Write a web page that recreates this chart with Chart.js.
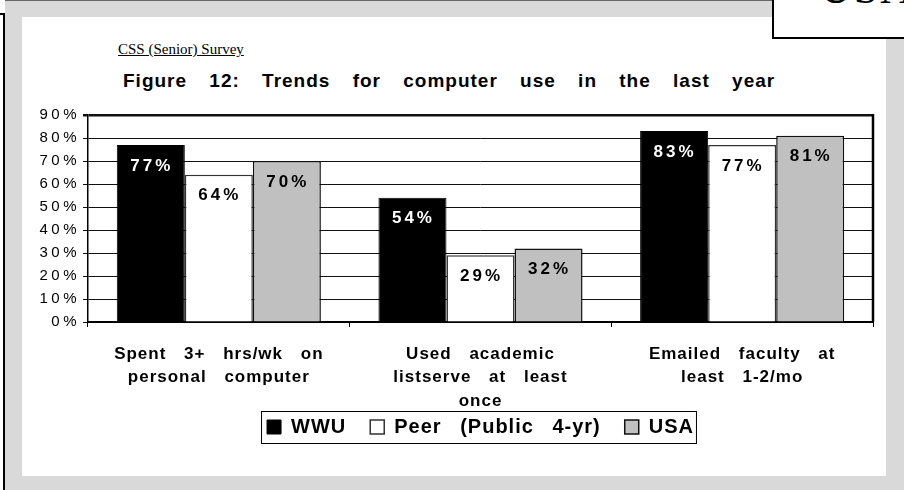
<!DOCTYPE html>
<html>
<head>
<meta charset="utf-8">
<script src="https://cdn.jsdelivr.net/npm/chart.js@4.4.1/dist/chart.umd.min.js"></script>
<style>
  html, body { margin: 0; padding: 0; background: #fff; }
  body { position: relative; width: 904px; height: 490px; overflow: hidden; font-family: "Liberation Sans", Arial, sans-serif; }
  .frame { position: absolute; left: 5px; top: 0; width: 899px; height: 490px; background: #d9d9d9; border-top: 1px solid #666; }
  .page { position: absolute; left: 22px; top: 17px; width: 864px; height: 459px; background: #fff; }
  .edge { position: absolute; left: 3px; top: 13px; width: 2px; height: 477px; background: #000; }
  .nick { position: absolute; left: 0; top: 13px; width: 4px; height: 2px; background: #000; }
  .tab { position: absolute; left: 772px; top: -2px; width: 140px; height: 37px; background: #fff; border: 2px solid #000; overflow: hidden; }
  .tab span { position: absolute; left: 46px; top: -37px; font-family: "Liberation Serif", "Times New Roman", serif; font-size: 44px; letter-spacing: 2px; color: #000; }
  .survey { position: absolute; left: 118px; top: 41px; font-family: "Liberation Serif", "Times New Roman", serif; font-size: 15px; text-decoration: underline; color: #000; }
  .title { position: absolute; left: 123px; top: 70px; font-size: 19px; font-weight: bold; letter-spacing: 1px; word-spacing: 16px; color: #000; white-space: nowrap; }
  #chart { position: absolute; left: 22px; top: 17px; }
</style>
</head>
<body>
<div class="frame"></div>
<div class="page"></div>
<div class="edge"></div>
<div class="nick"></div>
<div class="tab"><span>USA</span></div>
<div class="survey">CSS (Senior) Survey</div>
<div class="title">Figure 12: Trends for computer use in the last year</div>
<canvas id="chart" width="864" height="459"></canvas>
<script>
// categories (multi-line labels as in the original)
const categories = [
    ['Spent 3+ hrs/wk on', 'personal computer'],
    ['Used academic', 'listserve at least', 'once'],
    ['Emailed faculty at', 'least 1-2/mo']
];
const seriesNames = ['WWU', 'Peer (Public 4-yr)', 'USA'];
const wwuValues = [77, 54, 83];
const peerValues = [64, 29, 77];
const usaValues = [70, 32, 81];
const yTicks = [0, 10, 20, 30, 40, 50, 60, 70, 80, 90];

Chart.defaults.font.family = '"Liberation Sans", Arial, sans-serif';
Chart.defaults.color = '#000';

// spacing of the old Excel text
const spacingPlugin = {
    id: 'spacing',
    beforeUpdate(chart) {
        chart.ctx.letterSpacing = '1px';
        chart.ctx.wordSpacing = '12px';
    },
    afterLayout(chart) {
        // legend sits snug under the 3-line category label
        const lg = chart.legend;
        lg.top -= 17;
        lg.bottom -= 17;
    },
    beforeDraw(chart) {
        chart.ctx.letterSpacing = '1px';
        chart.ctx.wordSpacing = '12px';
        // y labels are spaced wider
        const y = chart.scales.y;
        if (y && !y._spaced) {
            const orig = y.drawLabels;
            y.drawLabels = function (area) {
                this.ctx.save();
                this.ctx.letterSpacing = '3.5px';
                orig.call(this, area);
                this.ctx.restore();
            };
            y._spaced = true;
        }
    }
};

// value labels inside the top of each bar
const valueLabels = {
    id: 'valueLabels',
    afterDatasetsDraw(chart) {
        const ctx = chart.ctx;
        ctx.save();
        ctx.font = 'bold 17px "Liberation Sans", Arial, sans-serif';
        ctx.letterSpacing = '3px';
        ctx.textAlign = 'center';
        ctx.textBaseline = 'middle';
        chart.data.datasets.forEach((ds, i) => {
            chart.getDatasetMeta(i).data.forEach((bar, j) => {
                ctx.fillStyle = i === 0 ? '#fff' : '#000';
                ctx.fillText(ds.data[j] + '%', bar.x + 1, bar.y + 21);
            });
        });
        ctx.restore();
    }
};

// right border of the plot and a box round the legend
const frames = {
    id: 'frames',
    afterDraw(chart) {
        const ctx = chart.ctx;
        const a = chart.chartArea;
        ctx.save();
        ctx.strokeStyle = '#000';
        ctx.lineWidth = 2.5;
        ctx.beginPath();
        ctx.moveTo(a.right, a.top - 1);
        ctx.lineTo(a.right, a.bottom);
        ctx.stroke();

        const boxes = chart.legend.legendHitBoxes;
        if (boxes.length) {
            const left = Math.min(...boxes.map(b => b.left)) - 6;
            const right = Math.max(...boxes.map(b => b.left + b.width)) + 2;
            const top = boxes[0].top - 6;
            const h = boxes[0].height + 12;
            ctx.lineWidth = 1;
            ctx.strokeRect(left + 0.5, top + 0.5, right - left, h);
        }
        ctx.restore();
    }
};

new Chart(document.getElementById('chart').getContext('2d'), {
    type: 'bar',
    data: {
        labels: categories,
        datasets: [
            { label: seriesNames[0], data: wwuValues, backgroundColor: '#000', borderColor: '#000', borderWidth: 1 },
            { label: seriesNames[1], data: peerValues, backgroundColor: '#fff', borderColor: '#333', borderWidth: 1.5 },
            { label: seriesNames[2], data: usaValues, backgroundColor: '#c0c0c0', borderColor: '#111', borderWidth: 1.5 }
        ]
    },
    options: {
        responsive: false,
        animation: false,
        devicePixelRatio: 1,
        categoryPercentage: 0.78,
        barPercentage: 1.0,
        layout: { padding: { top: 98, right: 13, bottom: 12, left: 0 } },
        scales: {
            x: {
                grid: { display: true, drawOnChartArea: false, offset: true, tickLength: 5, color: '#000' },
                border: { color: '#000', width: 2 },
                ticks: {
                    autoSkip: false, maxRotation: 0, padding: 15,
                    font: { size: 17, weight: 'bold', lineHeight: 1.4 }
                },
                afterFit: s => { s.height = 88; }
            },
            y: {
                min: 0, max: 90,
                afterBuildTicks: s => { s.ticks = yTicks.map(v => ({ value: v })); },
                grid: {
                    color: '#111',
                    lineWidth: c => (c.tick && c.tick.value === 90 ? 2.5 : 1),
                    tickLength: 5
                },
                border: { color: '#000', width: 1.5 },
                ticks: {
                    padding: 3,
                    font: { size: 15 },
                    callback: v => v + '%'
                },
                afterFit: s => { s.width = 66; }
            }
        },
        plugins: {
            legend: {
                position: 'bottom',
                fullSize: false,
                labels: {
                    boxWidth: 14, boxHeight: 14, padding: 24,
                    font: { size: 20, weight: 'bold' },
                    color: '#000'
                }
            },
            tooltip: { enabled: false },
            title: { display: false }
        }
    },
    plugins: [spacingPlugin, valueLabels, frames]
});
</script>
</body>
</html>
